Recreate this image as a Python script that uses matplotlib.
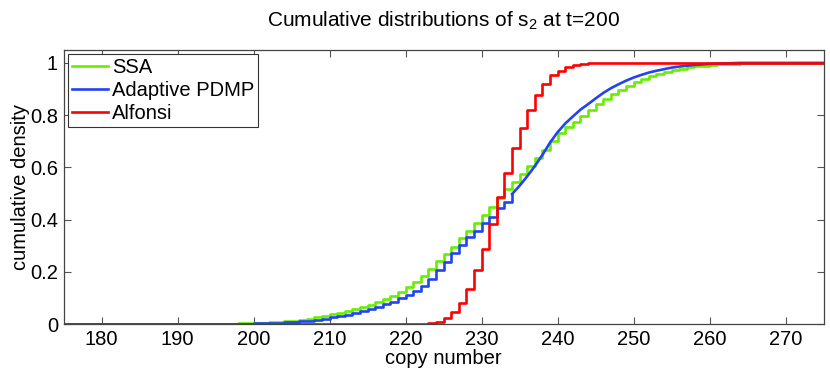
import numpy as np
import matplotlib
matplotlib.use("Agg")
import matplotlib.pyplot as plt

# copy number grid (integer support)
x_ssa = np.arange(195, 276)
ssa = [0.0005, 0.001, 0.0015, 0.002, 0.003, 0.004, 0.005, 0.006, 0.008, 0.010,
       0.012, 0.015, 0.020, 0.026, 0.031, 0.037, 0.042, 0.050, 0.056, 0.064,
       0.073, 0.083, 0.095, 0.109, 0.124, 0.140, 0.160, 0.183, 0.210, 0.240,
       0.268, 0.296, 0.328, 0.357, 0.386, 0.418, 0.450, 0.482, 0.517, 0.545,
       0.575, 0.605, 0.635, 0.667, 0.702, 0.731, 0.754, 0.775, 0.798, 0.820,
       0.842, 0.861, 0.880, 0.897, 0.912, 0.926, 0.937, 0.948, 0.958, 0.966,
       0.972, 0.978, 0.983, 0.987, 0.990, 0.993, 0.995, 0.996, 0.997, 0.998,
       0.998, 0.999, 0.999, 1.0, 1.0, 1.0, 1.0, 1.0, 1.0, 1.0, 1.0]

x_pdmp = np.arange(195, 276)
pdmp = [0.0, 0.0003, 0.0006, 0.001, 0.0015, 0.002, 0.003, 0.004, 0.005, 0.007,
        0.009, 0.011, 0.013, 0.016, 0.020, 0.025, 0.030, 0.036, 0.042, 0.049,
        0.056, 0.065, 0.075, 0.086, 0.098, 0.110, 0.125, 0.145, 0.172, 0.205,
        0.237, 0.272, 0.303, 0.332, 0.356, 0.386, 0.410, 0.443, 0.469, 0.498,
        0.530, 0.566, 0.605, 0.648, 0.695, 0.735, 0.768, 0.795, 0.821, 0.842,
        0.864, 0.885, 0.903, 0.918, 0.932, 0.944, 0.954, 0.963, 0.970, 0.976,
        0.982, 0.986, 0.989, 0.992, 0.994, 0.996, 0.997, 0.998, 0.999, 1.0,
        1.0, 1.0, 1.0, 1.0, 1.0, 1.0, 1.0, 1.0, 1.0, 1.0, 1.0]
pdmp_cont_from = 234  # PDMP curve is continuous from this copy number on

x_alf = np.arange(221, 276)
alfonsi = [0.0005, 0.001, 0.002, 0.006, 0.022, 0.047, 0.082, 0.134, 0.207, 0.287,
           0.382, 0.485, 0.580, 0.673, 0.752, 0.820, 0.878, 0.918, 0.952, 0.970,
           0.983, 0.991, 0.996, 0.998, 0.999] + [1.0] * 30

x_ticks = np.arange(180, 271, 10)
y_ticks = [0, 0.2, 0.4, 0.6, 0.8, 1]
y_ticklabels = ["0", "0.2", "0.4", "0.6", "0.8", "1"]

plt.rcParams['font.family'] = ['Liberation Sans', 'DejaVu Sans']
plt.rcParams['mathtext.default'] = 'regular'

fig = plt.figure(figsize=(8.3, 3.72), dpi=100)
ax = fig.add_axes([0.0767, 0.129, 0.9157, 0.737])

c_ssa = '#66ee00'
c_pdmp = '#2244ee'
c_alf = '#ff0000'
lw = 1.9
fs = 14.5

# pad flat zero parts back to the left axis limit
ax.step(np.r_[175, x_ssa], np.r_[0, ssa], where='post', color=c_ssa, lw=lw, label='SSA')

xp = np.asarray(x_pdmp)
yp = np.asarray(pdmp)
disc = xp <= pdmp_cont_from
ax.step(np.r_[175, xp[disc]], np.r_[0, yp[disc]], where='post', color=c_pdmp, lw=lw,
        label='Adaptive PDMP')
ax.plot(xp[xp >= pdmp_cont_from], yp[xp >= pdmp_cont_from], color=c_pdmp, lw=lw)

ax.step(np.r_[175, x_alf], np.r_[0, alfonsi], where='post', color=c_alf, lw=lw, label='Alfonsi')

ax.set_xlim(175, 275)
ax.set_ylim(0, 1.05)
ax.set_xticks(x_ticks)
ax.set_yticks(y_ticks, labels=y_ticklabels)
ax.tick_params(direction='in', top=True, right=True, length=5, width=0.8,
               color='#555555', labelsize=fs, pad=4)
for s in ax.spines.values():
    s.set_color('#444444')
    s.set_linewidth(0.9)

ax.set_xlabel('copy number', fontsize=fs, labelpad=0)
ax.set_ylabel('cumulative density', fontsize=fs)
ax.yaxis.set_label_coords(-0.044, 0.5)
ax.set_title('Cumulative distributions of s$_2$ at t=200', fontsize=15, pad=17)

leg = ax.legend(loc='upper left', fontsize=fs, handlelength=1.8, handletextpad=0.2,
                borderpad=0.2, labelspacing=0.2, borderaxespad=0.2, fancybox=False,
                framealpha=1)
leg.get_frame().set_edgecolor('#333333')
leg.get_frame().set_linewidth(0.8)

plt.savefig('out.png', dpi=100)
